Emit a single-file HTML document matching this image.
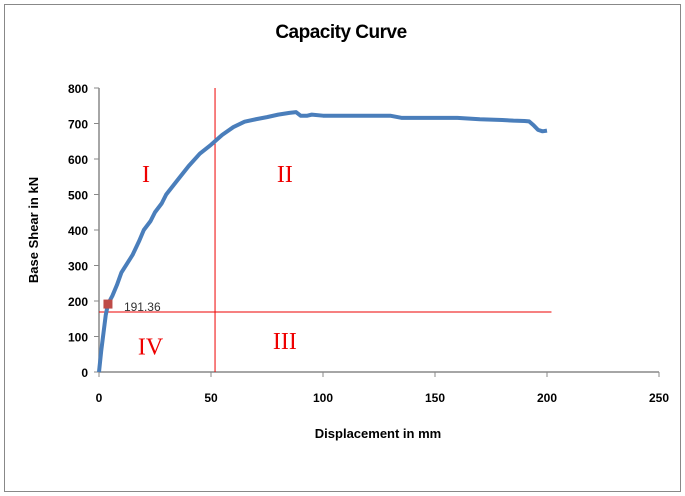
<!DOCTYPE html>
<html><head><meta charset="utf-8"><style>
body{margin:0;background:#fff;}
svg{display:block;font-family:"Liberation Sans",Arial,sans-serif;}
</style></head><body>
<svg width="685" height="496">
<rect x="4.5" y="4.5" width="676" height="487" fill="#fff" stroke="#888" stroke-width="1"/>
<text x="341" y="38" text-anchor="middle" font-size="19" font-weight="bold" style="letter-spacing:-0.5px">Capacity Curve</text>
<text transform="translate(38,230) rotate(-90)" text-anchor="middle" font-size="13" font-weight="bold">Base Shear in kN</text>
<text x="378" y="438" text-anchor="middle" font-size="13" font-weight="bold">Displacement in mm</text>
<g id="axes"></g>
<g id="marks"></g>
</svg>
<script>
const xTicks=[0,50,100,150,200,250];
const yTicks=[0,100,200,300,400,500,600,700,800];
const dispX=[0,1,2,3,4,6,8,10,13,15,18,20,23,25,28,30,35,40,45,50,55,60,65,70,75,80,85,88,90,93,95,100,110,120,130,135,140,150,160,170,180,185,190,192,194,196,198,200];
const shearY=[0,60,110,160,191,215,245,280,310,330,370,400,425,450,475,500,540,580,615,640,668,690,705,712,718,725,730,732,722,722,725,722,722,722,722,716,716,716,716,712,710,708,707,706,695,682,678,680];
const yieldPt=[4,191.36];
const limitX=[51.8];
const limitY=[169];
const zones=[{t:"I",x:21,y:560},{t:"II",x:83,y:560},{t:"III",x:83,y:90},{t:"IV",x:23,y:75}];
const X0=99,X1=659,Y0=372,Y1=88;
const sx=v=>X0+(v-0)/(250)*(X1-X0);
const sy=v=>Y0-(v/800)*(Y0-Y1);
const NS="http://www.w3.org/2000/svg";
function mk(tag,attrs,parent){const e=document.createElementNS(NS,tag);for(const k in attrs)e.setAttribute(k,attrs[k]);parent.appendChild(e);return e;}
const ax=document.getElementById('axes'),mg=document.getElementById('marks');
let e=mk('line',{x1:X0,y1:Y1,x2:X0,y2:Y0,stroke:'#888','stroke-width':1.5},ax);


e=mk('line',{x1:X0,y1:Y0,x2:X1,y2:Y0,stroke:'#888','stroke-width':1.5},ax);


yTicks.forEach(v=>{
 const t=mk('line',{x1:X0-5,y1:sy(v),x2:X0,y2:sy(v),stroke:'#888'},ax);
 
 
 const l=mk('text',{x:X0-11,y:sy(v)+5,'text-anchor':'end','font-size':12,'font-weight':'bold'},ax);
 l.textContent=v;
 
 
});
xTicks.forEach(v=>{
 const t=mk('line',{x1:sx(v),y1:Y0,x2:sx(v),y2:Y0+5,stroke:'#888'},ax);
 
 
 const l=mk('text',{x:sx(v),y:Y0+30,'text-anchor':'middle','font-size':12,'font-weight':'bold'},ax);
 l.textContent=v;
 
 
});
limitX.forEach(v=>{const l=mk('line',{x1:sx(v),y1:Y1,x2:sx(v),y2:Y0,stroke:'#e00','stroke-width':1},mg);
 
 });
limitY.forEach(v=>{const l=mk('line',{x1:sx(0),y1:sy(v),x2:sx(202),y2:sy(v),stroke:'#e00','stroke-width':1},mg);
 
 });
const p=mk('polyline',{points:dispX.map((x,i)=>sx(x)+','+sy(shearY[i])).join(' '),fill:'none',stroke:'#4a7ebb','stroke-width':4,'stroke-linejoin':'round'},mg);


const m=mk('rect',{x:sx(yieldPt[0])-4.5,y:sy(yieldPt[1])-4.5,width:9,height:9,fill:'#be4b48'},mg);


const ml=mk('text',{x:sx(yieldPt[0])+16,y:sy(yieldPt[1])+7,'font-size':12,fill:'#333'},mg);
ml.textContent=yieldPt[1].toFixed(2);


zones.forEach(z=>{const t=mk('text',{x:sx(z.x),y:sy(z.y)+9,'text-anchor':'middle','font-size':24,fill:'#e00','font-family':'Liberation Serif, serif'},mg);
 t.textContent=z.t;
 
 });
</script>
</body></html>
